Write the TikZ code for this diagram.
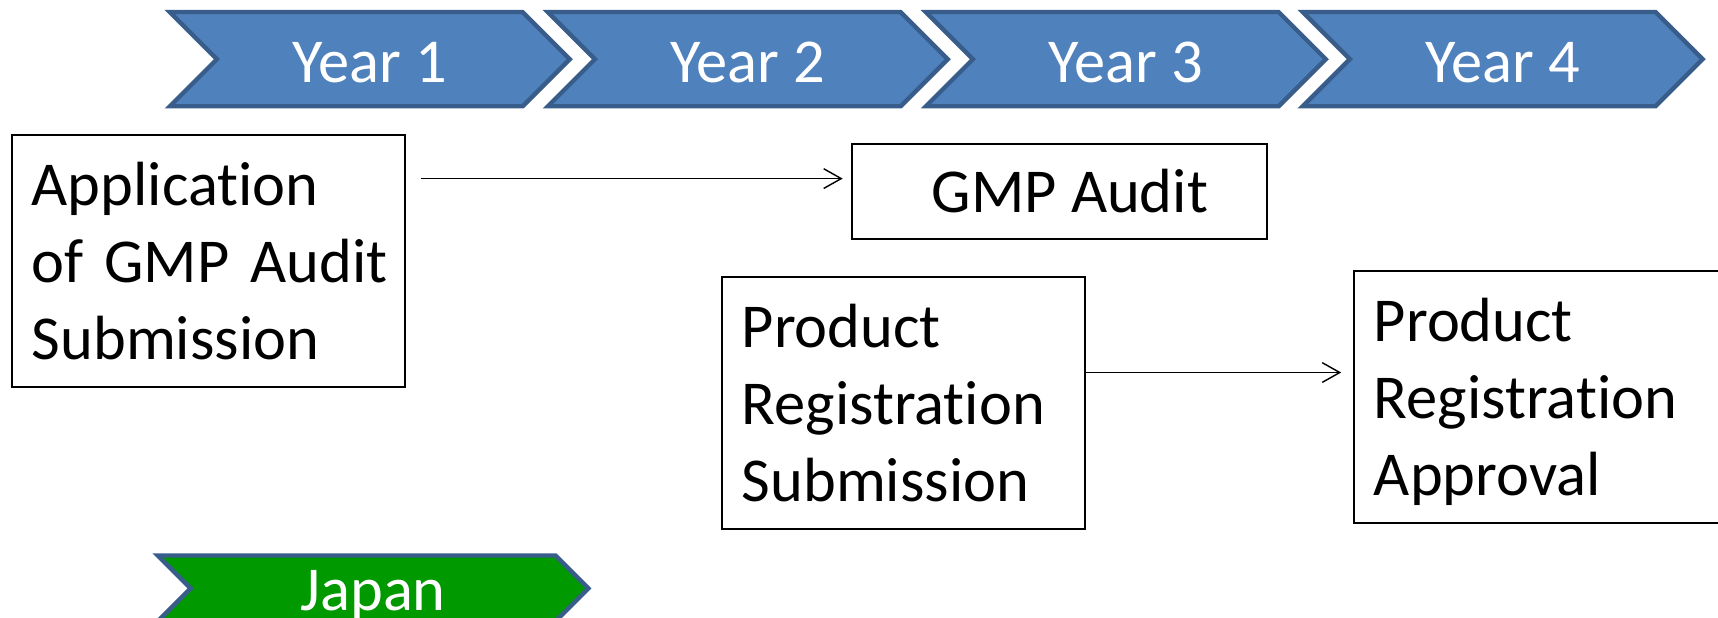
\documentclass[tikz,border=0pt]{standalone}
\usepackage{fontspec}
\setmainfont{Carlito}[Ligatures=NoCommon]
\usetikzlibrary{arrows.meta}
\definecolor{chevfill}{HTML}{4F81BD}
\definecolor{chevline}{HTML}{385D8A}
\definecolor{japfill}{HTML}{009900}
\begin{document}
\begin{tikzpicture}[x=1pt,y=-1pt,
  chev/.style={draw=chevline, line width=4pt, fill=chevfill, line join=miter},
  japchev/.style={draw=chevline, line width=4pt, fill=japfill, line join=miter},
  chevtxt/.style={text=white, font=\fontsize{57}{70}\selectfont, anchor=base, inner sep=0pt},
  box/.style={draw=black, line width=1.8pt, inner ysep=0pt, inner xsep=18pt, align=left,
              font=\fontsize{57}{70}\selectfont, minimum height=230pt},
  conn/.style={line width=1.3pt, -{Straight Barb[length=16pt,width=18pt,line width=1.3pt]}}
]
\useasboundingbox (0,0) rectangle (1568,564);
\clip (0,0) rectangle (1568,564);
% year chevrons
\foreach \x/\n in {155/1,500/2,845/3,1189/4}{
  \path[chev] (\x,11) -- (\x+322,11) -- (\x+365,54) -- (\x+322,97) -- (\x,97) -- (\x+43,54) -- cycle;
  \node[chevtxt] (year\n) at (\x+182.5,75) {Year \n};
}
% Japan chevron
\path[japchev] (144,507) -- (507,507) -- (537,537) -- (507,567) -- (144,567) -- (174,537) -- cycle;
\node[chevtxt] (japan) at (340.5,557) {Japan};
% boxes
\node[box, text width=323pt] (app) at (190.5,238)
  {\rule{0pt}{55pt}\mbox{Application}\\\mbox{of GMP Audit}\\\mbox{Submission}\rule[-15pt]{0pt}{15pt}};
\node[draw=black, line width=1.8pt, inner sep=0pt, minimum width=378pt, minimum height=87pt,
      font=\fontsize{57}{70}\selectfont] (aud) at (967,174.5) {\hspace*{19pt}GMP Audit};
\node[box, text width=295pt] (prs) at (824.5,367.5)
  {\rule{0pt}{55pt}\mbox{Product}\\\mbox{Registration}\\\mbox{Submission}\rule[-15pt]{0pt}{15pt}};
\node[box, text width=364pt] (pra) at (1436,362)
  {\rule{0pt}{55pt}\mbox{Product}\\\mbox{Registration}\\\mbox{Approval}\rule[-15pt]{0pt}{15pt}};
% connectors
\coordinate (y1) at (0,163);
\coordinate (y2) at (0,340);
\draw[conn, shorten <=13pt, shorten >=8pt] (app.east |- y1) -- (aud.west |- y1);
\draw[conn, shorten >=11pt] (prs.east |- y2) -- (pra.west |- y2);
\end{tikzpicture}
\end{document}
